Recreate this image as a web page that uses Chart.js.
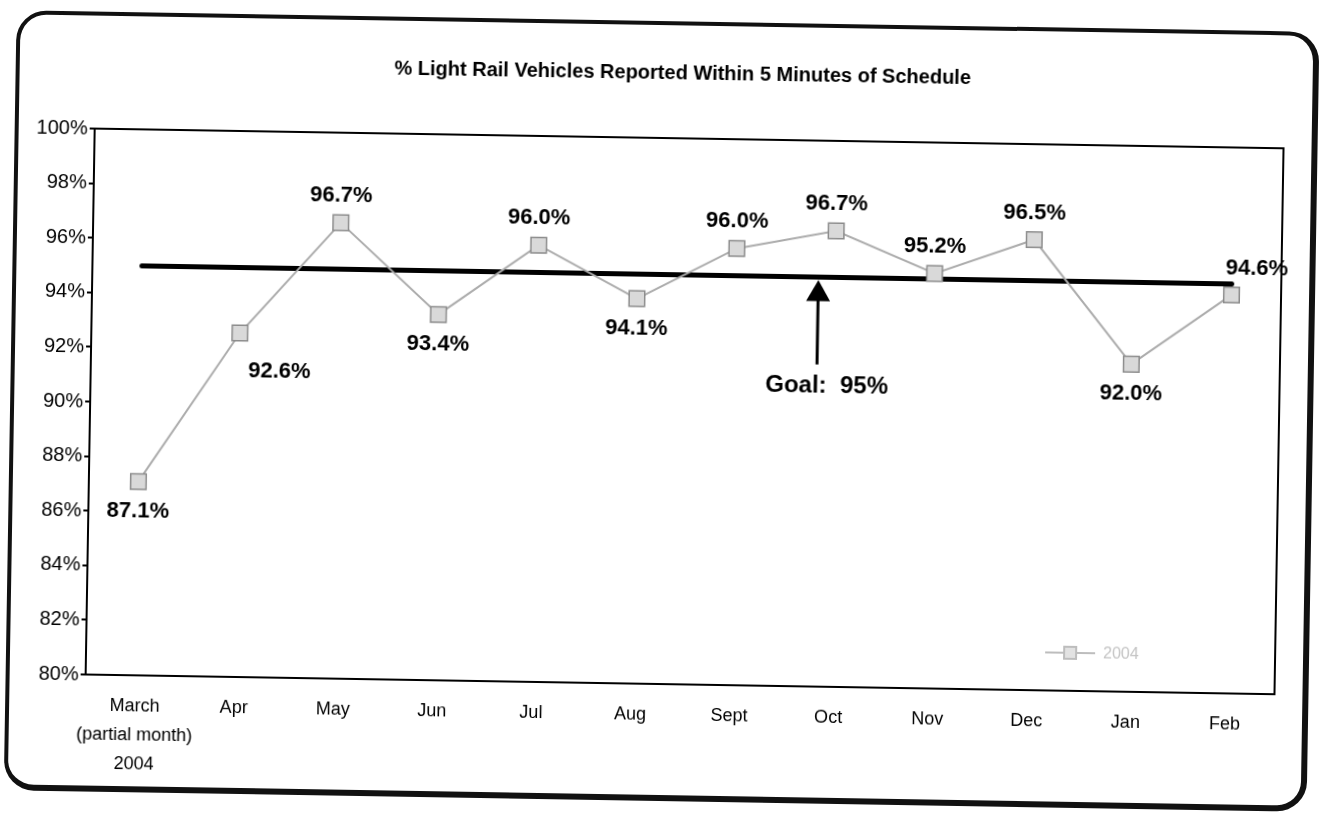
<!DOCTYPE html>
<html>
<head>
<meta charset="utf-8">
<title>% Light Rail Vehicles Reported Within 5 Minutes of Schedule</title>
<script src="https://cdn.jsdelivr.net/npm/chart.js@4.4.0/dist/chart.umd.min.js"></script>
<style>
  html, body { margin: 0; padding: 0; background: #fff; overflow: hidden; }
  /* the source is a slightly skewed scan, so the whole sheet is tilted a little */
  #wrap {
    position: relative; width: 1321px; height: 814px;
    transform-origin: 660px 407px;
    transform: translateY(9px) rotate(0.95deg);
  }
  #frame {
    position: absolute; left: 10px; top: 12px; width: 1293px; height: 770px;
    border: 4px solid #111; border-right-width: 6px; border-bottom-width: 6px;
    border-radius: 30px; box-sizing: content-box;
  }
  #chart { position: absolute; left: 0; top: 0; }
</style>
</head>
<body>
<div id="wrap">
  <div id="frame"></div>
  <canvas id="chart" width="1321" height="814"></canvas>
</div>
<script>
// Data
const months = [["March", "(partial month)", "2004"], "Apr", "May", "Jun", "Jul", "Aug", "Sept", "Oct", "Nov", "Dec", "Jan", "Feb"]
const onTimePct = [87.1, 92.6, 96.7, 93.4, 96.0, 94.1, 96.0, 96.7, 95.2, 96.5, 92.0, 94.6]
const goalPct = [95, 95, 95, 95, 95, 95, 95, 95, 95, 95, 95, 95]
const seriesName = "2004"
const chartTitle = "% Light Rail Vehicles Reported Within 5 Minutes of Schedule"
const goalText = "Goal:  95%"
const yMin = 80
const yMax = 100
const yStep = 2

// where each value label sits relative to its marker
const labelPlacement = ["below", "belowRight", "above", "below", "above", "below", "above", "above", "above", "above", "below", "aboveRight"]

const labelOffsets = {
  above: [0, -27],
  below: [0, 30],
  belowRight: [40, 38],
  aboveRight: [25, -26],
}

const FONT = "Arial, 'Liberation Sans', sans-serif"

// Value labels next to each marker
const valueLabels = {
  id: "valueLabels",
  afterDatasetsDraw(chart) {
    const meta = chart.getDatasetMeta(0)
    const ctx = chart.ctx
    ctx.save()
    ctx.font = "bold 22px " + FONT
    ctx.fillStyle = "#000"
    ctx.textAlign = "center"
    ctx.textBaseline = "middle"
    meta.data.forEach((pt, i) => {
      const off = labelOffsets[labelPlacement[i]]
      ctx.fillText(onTimePct[i].toFixed(1) + "%", pt.x + off[0], pt.y + off[1])
    })
    ctx.restore()
  },
}

// Title, box round the plot area, goal arrow and faint legend
const extras = {
  id: "extras",
  afterDraw(chart) {
    const ctx = chart.ctx
    const area = chart.chartArea
    const x = chart.scales.x
    const y = chart.scales.y
    ctx.save()

    // title
    ctx.fillStyle = "#000"
    ctx.font = "bold 20px " + FONT
    ctx.textAlign = "center"
    ctx.textBaseline = "middle"
    ctx.fillText(chartTitle, 677, 64)

    // plot frame
    ctx.strokeStyle = "#000"
    ctx.lineWidth = 2
    ctx.strokeRect(area.left, area.top, area.right - area.left, area.bottom - area.top)

    // goal arrow under October
    const ax = x.getPixelForValue(7) - 17
    const tip = y.getPixelForValue(95) + 3
    const end = y.getPixelForValue(91.8)
    ctx.lineWidth = 3
    ctx.beginPath()
    ctx.moveTo(ax, tip + 18)
    ctx.lineTo(ax, end)
    ctx.stroke()
    ctx.beginPath()
    ctx.moveTo(ax, tip)
    ctx.lineTo(ax - 12, tip + 21)
    ctx.lineTo(ax + 12, tip + 21)
    ctx.closePath()
    ctx.fill()
    ctx.font = "bold 24px " + FONT
    ctx.fillText(goalText, ax + 10, end + 22)

    // faint legend, bottom right
    const lx = area.right - 230
    const ly = area.bottom - 38
    ctx.strokeStyle = "#bdbdbd"
    ctx.lineWidth = 2
    ctx.beginPath()
    ctx.moveTo(lx, ly)
    ctx.lineTo(lx + 50, ly)
    ctx.stroke()
    ctx.fillStyle = "#e2e2e2"
    ctx.fillRect(lx + 19, ly - 6, 12, 12)
    ctx.strokeRect(lx + 19, ly - 6, 12, 12)
    ctx.fillStyle = "#c4c4c4"
    ctx.font = "16px " + FONT
    ctx.textAlign = "left"
    ctx.fillText(seriesName, lx + 58, ly + 1)
    ctx.restore()
  },
}

const ctx = document.getElementById("chart").getContext("2d")
const chart = new Chart(ctx, {
  type: "line",
  data: {
    labels: months,
    datasets: [
      {
        label: seriesName,
        data: onTimePct,
        borderColor: "#acacac",
        borderWidth: 2,
        pointStyle: "rect",
        pointRadius: 11,
        pointBackgroundColor: "#d9d9d9",
        pointBorderColor: "#8c8c8c",
        pointBorderWidth: 1.5,
        tension: 0,
        order: 1,
      },
      {
        label: "Goal",
        data: goalPct,
        borderColor: "#000",
        borderWidth: 5,
        pointRadius: 0,
        borderCapStyle: "round",
        order: 2,
      },
    ],
  },
  options: {
    responsive: false,
    animation: false,
    events: [],
    layout: {
      padding: { left: 0, right: 42, top: 129, bottom: 0 },
    },
    plugins: {
      legend: { display: false },
      tooltip: { enabled: false },
      title: { display: false },
    },
    scales: {
      x: {
        offset: true,
        grid: { display: false, drawTicks: false },
        border: { display: true, color: "#000", width: 2 },
        ticks: {
          color: "#000",
          padding: 17,
          maxRotation: 0,
          autoSkip: false,
          font: { family: FONT, size: 18, lineHeight: 1.6 },
        },
        afterFit(scale) {
          scale.height = 139
        },
      },
      y: {
        min: yMin,
        max: yMax,
        grid: { drawOnChartArea: false, drawTicks: true, tickLength: 5, color: "#000", lineWidth: 2 },
        border: { display: true, color: "#000", width: 2 },
        ticks: {
          stepSize: yStep,
          color: "#000",
          padding: 2,
          font: { family: FONT, size: 20 },
          callback: (v) => v + "%",
        },
        afterFit(scale) {
          scale.width = 90
        },
      },
    },
  },
  plugins: [valueLabels, extras],
})
</script>
</body>
</html>
